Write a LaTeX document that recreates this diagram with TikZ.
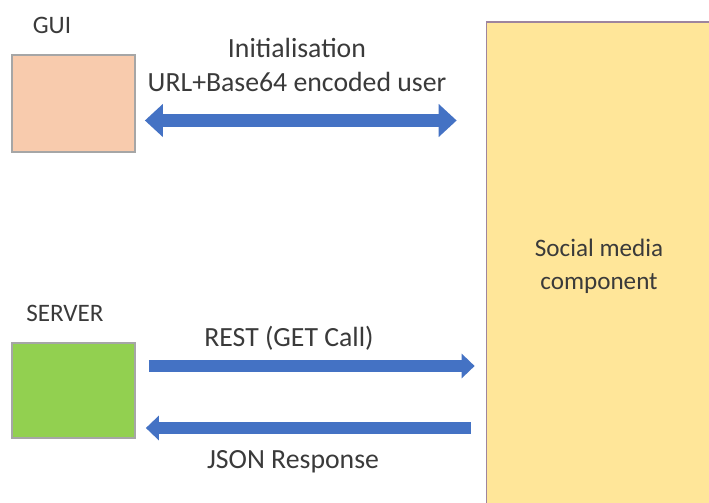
\documentclass[tikz,border=0pt]{standalone}
\usepackage{fontspec}
\setmainfont{Carlito}
\usetikzlibrary{arrows.meta,positioning,calc}

\definecolor{guifill}{HTML}{F8CBAD}
\definecolor{serverfill}{HTML}{92D050}
\definecolor{socialfill}{HTML}{FFE699}
\definecolor{boxgray}{HTML}{A6A6A6}
\definecolor{arrowblue}{HTML}{4472C4}
\definecolor{textgray}{HTML}{3A3A3A}

\begin{document}
\begin{tikzpicture}[
  x=0.02cm, y=-0.02cm,
  box/.style={rectangle, draw=boxgray, line width=1pt, inner sep=0pt},
  lbl/.style={font=\fontsize{14.3}{19}\selectfont, text=textgray, align=center},
  albl/.style={font=\fontsize{15.8}{19}\selectfont, text=textgray, align=center},
  arrow/.style={-{Triangle[length=0.26cm, width=0.48cm]}, line width=0.24cm, draw=arrowblue},
  dblarrow/.style={{Triangle[length=0.36cm, width=0.64cm]}-{Triangle[length=0.36cm, width=0.64cm]}, line width=0.28cm, draw=arrowblue},
]

\useasboundingbox (0,0) rectangle (709,503);

% ══ Boxes ══
\node[box, fill=guifill, minimum width=2.46cm, minimum height=1.94cm] (gui) at (73.5,103.5) {};
\node[box, fill=serverfill, minimum width=2.46cm, minimum height=1.9cm] (server) at (73.5,390.5) {};
\node[box, lbl, fill=socialfill, draw=boxgray!80!violet, minimum width=4.5cm, minimum height=9.76cm] (social) at (599,266) {Social media\\component};

% Box titles
\node[lbl] (guilbl) at (52,25) {GUI};
\node[lbl] (serverlbl) at (65,313) {SERVER};

% ══ Connections ══
\draw[dblarrow] ($(gui.east)+(9,17)$) -- ($(social.west |- gui.east)+(-29,17)$);
\draw[arrow] ($(server.east)+(13,-24.5)$) -- ($(social.west |- server.east)+(-11,-24.5)$);
\draw[arrow] ($(social.west |- server.east)+(-15,37.5)$) -- ($(server.east)+(10,37.5)$);

% Connection labels
\node[albl] (initlbl) at (297,65) {Initialisation\\URL+Base64 encoded user};
\node[albl] (restlbl) at (289,338) {REST (GET Call)};
\node[albl] (jsonlbl) at (293,462) {JSON Response};

\end{tikzpicture}
\end{document}
